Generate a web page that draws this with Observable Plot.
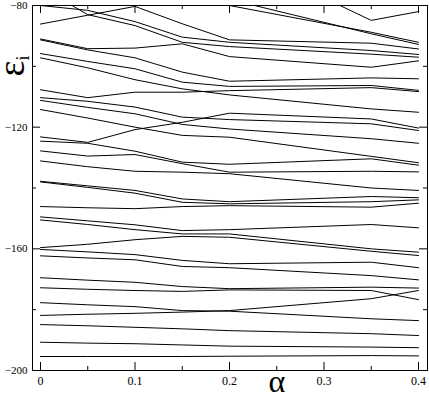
<!DOCTYPE html>
<html><head><meta charset="utf-8">
<script src="https://cdn.jsdelivr.net/npm/d3@7"></script>
<script src="https://cdn.jsdelivr.net/npm/@observablehq/plot@0.6"></script>
<style>body{margin:0;background:#fff}</style>
</head><body><div id="chart"></div>
<script>
const alpha = [0, 0.05, 0.1, 0.15, 0.2, 0.35, 0.4];
// energy levels ε_i (values above -80 lie outside the frame and are clipped)
const e01 = [-40, -46, -52, -57, -62.7, -84.9, -82.0];
const e02 = [-68, -71, -74, -77, -80.0, -88.8, -92.1];
const e03 = [-64, -67.5, -71, -74.5, -78.0, -89.3, -92.8];
const e04 = [-80.0, -81.6, -85.3, -90.4, -92.1, -94.8, -96.1];
const e05 = [-74.0, -83.0, -86.6, -92.1, -93.5, -96.0, -97.0];
const e06 = [-86.1, -83.2, -80.3, -86.0, -91.3, -92.4, -94.3];
const e07 = [-91.0, -94.2, -94.0, -92.6, -96.8, -100.3, -98.2];
const e08 = [-91.3, -94.6, -97.2, -101.9, -104.9, -103.8, -104.1];
const e09 = [-95.8, -98.4, -100.8, -105.2, -106.6, -106.3, -107.9];
const e10 = [-107.7, -110.3, -108.5, -108.5, -108.0, -107.0, -108.3];
const e11 = [-97.2, -100.5, -104.4, -107.4, -109.4, -114.0, -115.1];
const e12 = [-110.3, -111.5, -113.4, -116.7, -117.5, -118.9, -121.1];
const e13 = [-123.2, -125.0, -120.8, -118.4, -115.4, -117.3, -120.3];
const e14 = [-111.2, -113.5, -115.6, -119.1, -120.6, -123.8, -125.3];
const e15 = [-114.2, -117.0, -120.0, -122.7, -123.3, -129.6, -131.7];
const e16 = [-124.6, -125.3, -127.9, -131.5, -132.2, -130.4, -132.5];
const e17 = [-127.8, -129.5, -129.0, -132.0, -134.8, -134.5, -134.7];
const e18 = [-131.1, -133.0, -134.5, -134.8, -135.3, -140.0, -140.8];
const e19 = [-137.8, -139.3, -140.8, -143.6, -144.5, -142.8, -143.2];
const e20 = [-138.0, -139.8, -141.7, -144.7, -145.2, -144.5, -143.9];
const e21 = [-146.1, -146.5, -146.8, -146.1, -145.8, -146.3, -145.0];
const e22 = [-149.5, -150.8, -152.1, -154.0, -153.7, -152.0, -153.1];
const e23 = [-150.5, -152.0, -153.7, -155.1, -155.1, -160.0, -161.1];
const e24 = [-159.6, -158.5, -157.0, -155.9, -156.2, -160.8, -162.2];
const e25 = [-160.2, -161.0, -161.9, -163.8, -164.9, -164.4, -166.2];
const e26 = [-162.3, -163.0, -163.6, -165.8, -166.2, -168.8, -170.2];
const e27 = [-169.5, -170.3, -171.0, -172.4, -173.1, -172.6, -172.9];
const e28 = [-172.8, -173.3, -173.7, -174.0, -173.5, -173.7, -176.7];
const e29 = [-181.9, -181.5, -181.2, -180.8, -180.3, -176.4, -173.7];
const e30 = [-177.7, -178.4, -179.0, -180.3, -180.5, -183.0, -183.6];
const e31 = [-184.9, -185.3, -185.8, -186.3, -186.9, -187.9, -188.5];
const e32 = [-190.7, -191.0, -191.2, -191.6, -192.0, -192.3, -192.5];
const e33 = [-195.4, -195.4, -195.4, -195.4, -195.3, -195.1, -195.2];
const levels = [e01,e02,e03,e04,e05,e06,e07,e08,e09,e10,e11,e12,e13,e14,e15,e16,e17,e18,e19,e20,e21,e22,e23,e24,e25,e26,e27,e28,e29,e30,e31,e32,e33];

const xMajor = [0, 0.1, 0.2, 0.3, 0.4];
const xMinor = [0.05, 0.15, 0.25, 0.35];
const yMajor = [-200, -160, -120, -80];
const yMinor = [-180, -140, -100];
const xTickLabels = ["0", "0.1", "0.2", "0.3", "0.4"];

const rows = levels.flatMap((s, i) => s.map((v, j) => ({level: i, alpha: alpha[j], eps: v})));

const W = 429, H = 394;
const mL = 32, mR = 2, mT = 5, mB = 24;
const xDom = [-0.00847, 0.40952], yDom = [-200, -80];
const pxX = (xDom[1]-xDom[0])/(W-mL-mR);   // data units per pixel
const pxY = (yDom[1]-yDom[0])/(H-mT-mB);
const majLen = 8, minLen = 4;

const serif = "'Liberation Serif', 'DejaVu Serif', serif";

const plot = Plot.plot({
  width: W, height: H,
  marginLeft: mL, marginRight: mR, marginTop: mT, marginBottom: mB,
  style: {fontFamily: serif, background: "#fff", overflow: "visible"},
  x: {domain: xDom},
  y: {domain: yDom},
  marks: [
    Plot.line(rows, {x: "alpha", y: "eps", z: "level", stroke: "#000", strokeWidth: 1, clip: true}),
    Plot.ruleX(xMajor, {x: d => d, y1: yDom[0], y2: yDom[0] + majLen*pxY, stroke: "#000"}),
    Plot.ruleX(xMinor, {x: d => d, y1: yDom[0], y2: yDom[0] + minLen*pxY, stroke: "#000"}),
    Plot.ruleX(xMajor, {x: d => d, y1: yDom[1], y2: yDom[1] - majLen*pxY, stroke: "#000"}),
    Plot.ruleX(xMinor, {x: d => d, y1: yDom[1], y2: yDom[1] - minLen*pxY, stroke: "#000"}),
    Plot.ruleY(yMajor, {y: d => d, x1: xDom[0], x2: xDom[0] + majLen*pxX, stroke: "#000"}),
    Plot.ruleY(yMinor, {y: d => d, x1: xDom[0], x2: xDom[0] + minLen*pxX, stroke: "#000"}),
    Plot.ruleY(yMajor, {y: d => d, x1: xDom[1], x2: xDom[1] - majLen*pxX, stroke: "#000"}),
    Plot.ruleY(yMinor, {y: d => d, x1: xDom[1], x2: xDom[1] - minLen*pxX, stroke: "#000"}),
    Plot.frame({stroke: "#000", strokeWidth: 1}),
    Plot.axisX(xMajor, {tickSize: 0, tickPadding: 6, fontSize: 12, tickFormat: (d, i) => xTickLabels[i], label: null}),
    Plot.axisY(yMajor, {tickSize: 0, tickPadding: 5, fontSize: 11, label: null}),
    Plot.text(["α"], {x: 0.25, frameAnchor: "bottom", dy: 21, fontSize: 32, lineAnchor: "bottom", fontFamily: serif})
  ]
});
document.getElementById("chart").appendChild(plot);

// rotated y-axis title with subscript
const svg = d3.select(plot);
const t = svg.append("text")
  .attr("transform", "translate(24,66) rotate(-90)")
  .attr("text-anchor", "middle")
  .attr("font-family", serif)
  .attr("fill", "#000");
t.append("tspan").attr("font-size", 38).text("ε");
t.append("tspan").attr("font-size", 18).attr("dy", 5).text("i");
</script>
</body></html>
